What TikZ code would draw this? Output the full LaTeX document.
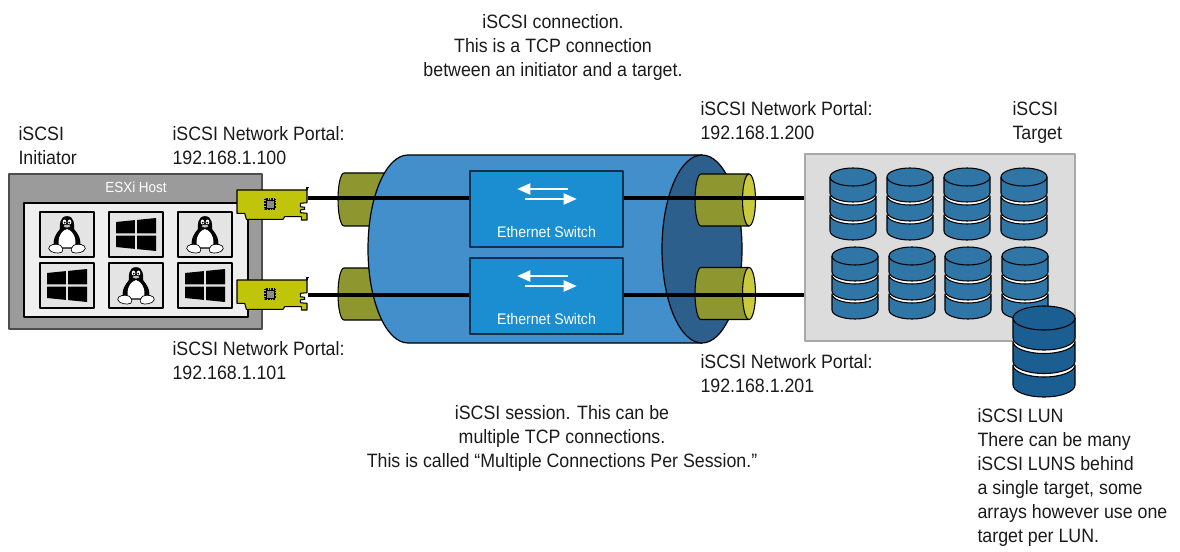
\documentclass[tikz,border=0pt]{standalone}
\usepackage{fontspec}
\setmainfont{Liberation Sans}[FakeStretch=0.92]
\usetikzlibrary{arrows.meta}

\definecolor{txt}{HTML}{1A1A1A}
\definecolor{hostgray}{HTML}{9B9B9B}
\definecolor{hostedge}{HTML}{4D4D4D}
\definecolor{hostin}{HTML}{EFEFEF}
\definecolor{vmfill}{HTML}{E4E4E4}
\definecolor{nic}{HTML}{C0C40A}
\definecolor{chip}{HTML}{8A8A8A}
\definecolor{pipe}{HTML}{8E9630}
\definecolor{pipeend}{HTML}{C8C93C}
\definecolor{tube}{HTML}{428FCC}
\definecolor{tubeend}{HTML}{2C5F8C}
\definecolor{switchblue}{HTML}{1A8ED0}
\definecolor{switchedge}{HTML}{10304F}
\definecolor{targetfill}{HTML}{DCDCDC}
\definecolor{targetedge}{HTML}{A8A8A8}
\definecolor{disk}{HTML}{2F75A6}
\definecolor{lun}{HTML}{1B5E92}

% Windows logo: four panes in slight perspective
\newcommand\winlogo[2]{%
  \begin{scope}[shift={(#1,#2)}]
    \fill (-20,-12.5) -- (-1.2,-14.4) -- (-1.2,-1.2) -- (-20,-1.2) -- cycle;
    \fill (1.2,-14.6) -- (20,-16.5) -- (20,-1.2) -- (1.2,-1.2) -- cycle;
    \fill (-20,1.2) -- (-1.2,1.2) -- (-1.2,14.4) -- (-20,12.5) -- cycle;
    \fill (1.2,1.2) -- (20,1.2) -- (20,16.5) -- (1.2,14.6) -- cycle;
  \end{scope}}

% Linux penguin
\newcommand\tux[2]{%
  \begin{scope}[shift={(#1,#2)}, scale=1.08]
    \fill (0,-17) .. controls (7,-17) and (7,-8) .. (6.5,-5)
      .. controls (13,2) and (14,10) .. (10,13) -- (-10,13)
      .. controls (-14,10) and (-13,2) .. (-6.5,-5)
      .. controls (-7,-8) and (-7,-17) .. (0,-17);
    \fill[white] (0,-5) .. controls (7.5,-3) and (9.5,8) .. (6.5,12) -- (-6.5,12)
      .. controls (-9.5,8) and (-7.5,-3) .. (0,-5);
    \fill[white] (-2.3,-11.5) ellipse[x radius=1.7, y radius=2.3];
    \fill[white] (2.3,-11.5) ellipse[x radius=1.7, y radius=2.3];
    \fill (-2.1,-11) circle[radius=0.85];
    \fill (2.1,-11) circle[radius=0.85];
    \filldraw[fill=black!25, line width=0.4pt] (0,-7.8) ellipse[x radius=3.4, y radius=1.7];
    \filldraw[fill=white, line width=0.5pt] (-17,13) .. controls (-17,9) and (-10,8) .. (-6,10)
      .. controls (-4,12) and (-3,14) .. (-5,16.5) .. controls (-8,18) and (-16,17) .. (-17,13);
    \filldraw[fill=white, line width=0.5pt] (17,13) .. controls (17,9) and (10,8) .. (6,10)
      .. controls (4,12) and (3,14) .. (5,16.5) .. controls (8,18) and (16,17) .. (17,13);
  \end{scope}}

% Network card with chip
\newcommand\niccard[2]{%
  \begin{scope}[shift={(#1,#2)}]
    \filldraw[fill=nic, line width=0.8pt] (0,0) -- (70,0) -- (70,12.7) -- (63.4,13.3) -- (63.4,16.7)
      -- (67.7,17.3) -- (67.7,19.3) -- (63.4,20) -- (63.4,22.7) -- (70,23.3) -- (70,30)
      -- (64.4,30) -- (64.4,26.7) -- (47.7,26.7) -- (46,29.3) -- (9.4,29.3) -- (7.7,23.3)
      -- (0,23.3) -- cycle;
    \draw[line width=0.8pt] (70,0) -- (70,-2.5) -- (71.5,-2.5);
    \draw[line width=1.2pt, dash pattern=on 0.6pt off 0.6pt] (28,9) rectangle (38,19);
    \filldraw[fill=chip, line width=0.5pt] (29,10) rectangle (37,18);
  \end{scope}}

% Stack of three disks: cx, top, rx, ry, side height, gap, colour
\newcommand\diskstack[7]{%
  \begin{scope}[shift={(#1,#2)}]
    \fill[white] (-#3,#4) arc[start angle=180,end angle=360,x radius=#3,y radius=#4]
      -- (#3,{#4+2*(#5+#6)+#5}) arc[start angle=0,end angle=180,x radius=#3,y radius=#4] -- cycle;
    \foreach \k in {1,2} {
      \filldraw[fill=#7] (-#3,{#4+\k*(#5+#6)}) arc[start angle=180,end angle=0,x radius=#3,y radius=#4]
        -- (#3,{#4+\k*(#5+#6)+#5}) arc[start angle=0,end angle=180,x radius=#3,y radius=#4] -- cycle;
    }
    \filldraw[fill=#7] (-#3,#4) arc[start angle=180,end angle=360,x radius=#3,y radius=#4]
      -- (#3,{#4+#5}) arc[start angle=0,end angle=180,x radius=#3,y radius=#4] -- cycle;
    \draw (-#3,#4) arc[start angle=180,end angle=0,x radius=#3,y radius=#4];
  \end{scope}}

\begin{document}
\begin{tikzpicture}[x=0.75pt, y=-0.75pt, line join=round, line width=0.8pt,
  lbl/.style={font=\fontsize{14.5}{18}\selectfont, text=txt, align=left, inner sep=0pt, anchor=north west},
  clbl/.style={font=\fontsize{14.5}{18}\selectfont, text=txt, align=center, inner sep=0pt, anchor=north},
  vmbox/.style={draw=black, fill=vmfill, line width=0.8pt},
  pipestyle/.style={draw=black, fill=pipe, line width=0.8pt},
  switchbox/.style={draw=switchedge, fill=switchblue, line width=0.9pt, minimum width=114.75pt, minimum height=57pt, inner sep=0pt},
  cable/.style={line width=3pt, black},
  flow/.style={white, line width=2.2pt, -{Triangle[length=10pt, width=8pt]}}]

\useasboundingbox (0,0) rectangle (1180,552);

% ---------- labels ----------
\node[lbl] (initiatorlbl) at (18,126) {iSCSI\\Initiator};
\node[lbl] (portalA) at (172,126) {iSCSI Network Portal:\\192.168.1.100};
\node[lbl] (portalB) at (172,341) {iSCSI Network Portal:\\192.168.1.101};
\node[lbl] (portalC) at (700,101) {iSCSI Network Portal:\\192.168.1.200};
\node[lbl] (portalD) at (700,354) {iSCSI Network Portal:\\192.168.1.201};
\node[lbl] (targetlbl) at (1012,101) {iSCSI\\Target};
\node[clbl] (connlbl) at (553,14) {iSCSI connection.\\This is a TCP connection\\between an initiator and a target.};
\node[clbl] (sesslbl) at (562,405) {iSCSI session. This can be\\multiple TCP connections.\\This is called “Multiple Connections Per Session.”};
\node[lbl] (lunlbl) at (977,408) {iSCSI LUN\\There can be many\\iSCSI LUNS behind\\a single target, some\\arrays however use one\\target per LUN.};

% ---------- ESXi host ----------
\filldraw[fill=hostgray, draw=hostedge, line width=1.2pt] (9,174) rectangle (262,329);
\node[text=white, font=\fontsize{11}{13}\selectfont, inner sep=0pt] (hostlbl) at (136,187) {ESXi Host};
\filldraw[fill=hostin, draw=black, line width=0.8pt] (24,203) rectangle (248,317);
\foreach \cx in {67,136,205} {
  \draw[vmbox] (\cx-27,212) rectangle (\cx+27,257);
  \draw[vmbox] (\cx-27,263) rectangle (\cx+27,308);
}
\tux{67}{234.5}
\winlogo{136}{234.5}
\tux{205}{234.5}
\winlogo{67}{285.5}
\tux{136}{285.5}
\winlogo{205}{285.5}

\niccard{237}{190}
\niccard{237}{280}
\coordinate (nicA) at (308,198);
\coordinate (nicB) at (308,295);

% ---------- pipes entering the tunnel ----------
\foreach \yc/\r in {199.5/26.5, 294/26} {
  \filldraw[pipestyle] (420,\yc-\r) -- (344,\yc-\r) arc[start angle=270,end angle=90,x radius=6,y radius=\r] -- (420,\yc+\r) -- cycle;
}

% ---------- tunnel ----------
\filldraw[fill=tube, draw=black, line width=0.9pt] (408,155) -- (702,155) -- (702,343) -- (408,343)
  arc[start angle=90,end angle=270,x radius=40,y radius=94] -- cycle;
\filldraw[fill=tubeend, draw=black, line width=0.9pt] (702,249) ellipse[x radius=40, y radius=94];

% ---------- pipes leaving the tunnel ----------
\foreach \yc in {200,293.5} {
  \filldraw[pipestyle] (749,\yc-26) -- (701,\yc-26) arc[start angle=270,end angle=90,x radius=6,y radius=26] -- (749,\yc+26) -- cycle;
  \filldraw[draw=black, fill=pipeend, line width=0.8pt] (749,\yc) ellipse[x radius=6.5, y radius=26];
}

% ---------- target ----------
\node[draw=targetedge, fill=targetfill, line width=1.2pt, anchor=north west,
      minimum width=202.5pt, minimum height=140.25pt, inner sep=0pt] (target) at (804,153) {};
\foreach \cx in {853,910,967,1024} { \diskstack{\cx}{168}{23}{9}{16}{3}{disk} }
\foreach \cx in {855,912,968,1025} { \diskstack{\cx}{247}{23}{9}{16}{3}{disk} }

% ---------- cables ----------
\draw[cable] (nicA) -- (nicA -| target.west);
\draw[cable] (nicB) -- (nicB -| target.west);

% ---------- switches ----------
\node[switchbox] (swA) at (546.5,209) {};
\node[switchbox] (swB) at (546.5,296) {};
\foreach \s in {swA,swB} {
  \draw[flow] ([shift={(21.5,-20)}]\s.center) -- ([shift={(-29.5,-20)}]\s.center);
  \draw[flow] ([shift={(-21.5,-10)}]\s.center) -- ([shift={(30.5,-10)}]\s.center);
  \node[text=white, font=\fontsize{11.5}{13}\selectfont, inner sep=0pt] at ([yshift=-17pt]\s.center) {Ethernet Switch};
}

% ---------- LUN ----------
\diskstack{1044}{306}{31}{12}{20}{3.5}{lun}

\end{tikzpicture}
\end{document}
